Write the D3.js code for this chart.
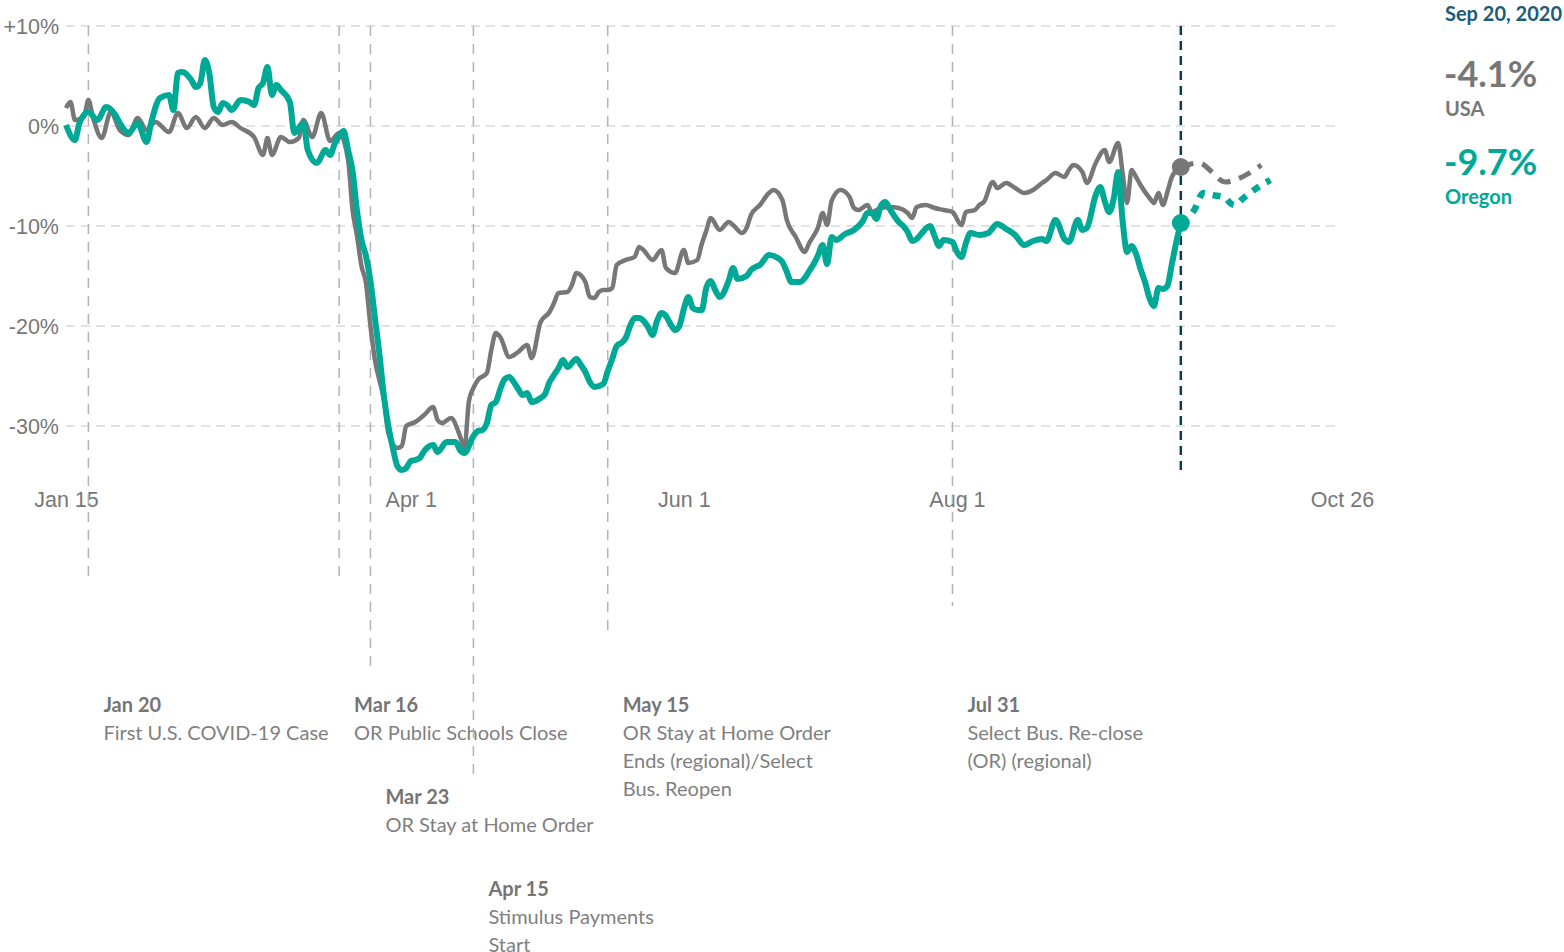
<!DOCTYPE html>
<html>
<head>
<meta charset="utf-8">
<title>Consumer spending vs. January</title>
<style>
  body { margin: 0; background: #fff; }
  .tick text { font-family: "Liberation Sans", Arial, sans-serif; font-size: 21.5px; fill: #777; }
  .note { font-family: Lato, "Noto Sans", sans-serif; font-size: 20px; }
</style>
</head>
<body>
<div id="chart"></div>
<script src="https://d3js.org/d3.v7.min.js"></script>
<script>
// USA, daily % change vs January
const usaDates = ["1/15","1/16","1/17","1/19","1/20","1/21","1/23","1/25","1/27","1/29","1/31","2/2","2/4","2/7","2/9","2/11","2/13","2/15","2/17","2/19","2/21","2/23","2/26","2/28","2/29","3/1","3/3","3/5","3/7","3/8","3/10","3/12","3/14","3/16","3/18","3/19","3/20","3/21","3/22","3/23","3/24","3/26","3/27","3/29","3/30","3/31","4/2","4/4","4/6","4/7","4/8","4/10","4/12","4/13","4/14","4/15","4/16","4/18","4/19","4/20","4/21","4/23","4/25","4/27","4/28","4/30","5/2","5/3","5/4","5/6","5/7","5/8","5/10","5/11","5/12","5/13","5/14","5/15","5/16","5/17","5/19","5/21","5/22","5/23","5/25","5/27","5/28","5/30","6/1","6/2","6/4","6/5","6/6","6/7","6/9","6/11","6/12","6/14","6/15","6/16","6/18","6/20","6/21","6/23","6/24","6/26","6/28","6/29","7/1","7/2","7/3","7/4","7/6","7/8","7/9","7/10","7/12","7/13","7/15","7/17","7/19","7/21","7/22","7/23","7/25","7/27","7/29","7/31","8/2","8/3","8/5","8/6","8/7","8/9","8/10","8/12","8/14","8/16","8/18","8/20","8/21","8/23","8/25","8/26","8/27","8/29","8/30","9/1","9/3","9/4","9/6","9/7","9/8","9/9","9/10","9/11","9/13","9/14","9/15","9/16","9/17","9/18","9/20"];
const usaValues = [1.8,2.4,0.6,0.9,2.6,0.9,-1.2,1.4,-0.4,-0.9,0.8,-0.4,0.4,-0.6,1.3,-0.2,0.9,-0.2,0.8,0.1,0.4,-0.2,-1.1,-2.9,-1.2,-2.9,-1.1,-1.6,-1.2,0.6,-1.1,1.3,-1.5,-0.7,-3.4,-8.4,-11,-14,-15.7,-20,-23.4,-27.4,-30.7,-32.2,-32,-30,-29.6,-28.9,-28.1,-29.4,-29.7,-29.2,-31,-32.2,-27.5,-26.2,-25.4,-24.7,-22.4,-20.7,-21.1,-23.1,-22.6,-21.9,-23.2,-19.6,-18.6,-17.7,-16.7,-16.6,-15.9,-14.7,-15.6,-17.1,-17.2,-16.6,-16.4,-16.4,-16.2,-13.9,-13.4,-13.1,-12.1,-12.4,-13.4,-12.4,-14.2,-14.7,-12.4,-13.7,-13.4,-11.8,-10.5,-9.2,-10.4,-9.6,-9.9,-10.7,-10.2,-8.9,-7.9,-6.7,-6.4,-7.4,-9.4,-11.1,-12.6,-11.7,-10.1,-8.7,-9.9,-7.5,-6.4,-7.1,-8.2,-8.4,-7.9,-8.6,-8.2,-8.1,-8.2,-8.7,-9.2,-8.1,-7.9,-8.2,-8.4,-8.6,-9.9,-8.6,-8.4,-7.9,-7.6,-5.6,-6.2,-5.7,-6.2,-6.7,-6.4,-5.7,-5.4,-4.7,-5.1,-4.4,-3.9,-4.6,-5.7,-3.7,-2.4,-3.6,-1.7,-4.7,-7.7,-4.4,-5.1,-5.9,-7.2,-7.7,-6.7,-7.9,-6.6,-5.1,-4.1];

// Oregon
const orDates = ["1/15","1/17","1/18","1/20","1/22","1/24","1/26","1/27","1/29","1/31","2/2","2/3","2/5","2/7","2/8","2/9","2/10","2/12","2/13","2/14","2/15","2/16","2/17","2/18","2/19","2/20","2/21","2/23","2/25","2/26","2/27","2/28","2/29","3/1","3/2","3/3","3/5","3/6","3/8","3/9","3/11","3/13","3/14","3/15","3/16","3/17","3/18","3/19","3/20","3/21","3/22","3/23","3/24","3/25","3/26","3/27","3/28","3/29","3/30","3/31","4/1","4/2","4/3","4/4","4/6","4/7","4/9","4/10","4/11","4/12","4/13","4/15","4/16","4/17","4/18","4/19","4/20","4/21","4/22","4/23","4/24","4/25","4/26","4/27","4/28","4/30","5/1","5/2","5/3","5/4","5/5","5/6","5/8","5/9","5/10","5/11","5/12","5/14","5/15","5/16","5/17","5/18","5/19","5/20","5/21","5/22","5/24","5/25","5/26","5/27","5/28","5/29","5/30","5/31","6/1","6/2","6/3","6/4","6/5","6/6","6/7","6/8","6/9","6/11","6/12","6/13","6/15","6/16","6/17","6/18","6/20","6/22","6/23","6/24","6/25","6/27","6/28","6/29","6/30","7/1","7/2","7/3","7/4","7/5","7/7","7/9","7/11","7/12","7/13","7/14","7/15","7/16","7/17","7/18","7/19","7/20","7/21","7/22","7/23","7/24","7/26","7/27","7/28","7/29","7/31","8/1","8/2","8/3","8/4","8/6","8/8","8/10","8/12","8/14","8/16","8/18","8/20","8/21","8/23","8/25","8/26","8/28","8/29","8/30","9/1","9/2","9/3","9/4","9/5","9/6","9/7","9/8","9/9","9/10","9/11","9/12","9/13","9/14","9/15","9/16","9/17","9/18","9/19","9/20"];
const orValues = [0.1,-1.4,0.3,1.4,0.6,1.9,1.1,0.3,-0.7,0.3,-1.6,0.3,2.8,3.1,1.6,5.3,5.4,4.6,3.9,4.3,6.6,5.3,1.9,1.4,2.3,2.1,1.6,2.6,2.4,2.1,3.8,4.3,5.9,3.1,4.1,3.6,2.4,-0.7,0.3,-2.4,-3.7,-2.4,-2.9,-1.8,-1.0,-0.5,-2.4,-4.5,-8.5,-11.4,-13,-15.5,-19.2,-22.8,-27,-30,-32.2,-34,-34.4,-34.2,-33.5,-33.4,-33.2,-32.5,-31.9,-32.6,-31.6,-31.6,-31.6,-32.4,-32.7,-31,-30.5,-30.4,-29.7,-27.9,-27.6,-26.3,-25.3,-25.1,-25.6,-26.3,-26.9,-26.7,-27.6,-27.2,-26.8,-25.6,-24.9,-24.2,-23.4,-24.1,-23.3,-23.9,-24.6,-25.6,-26.1,-25.8,-24.5,-23.3,-22,-21.7,-21.2,-20,-19.2,-19.2,-20.1,-20.9,-19.5,-18.7,-19,-19.8,-20.4,-20,-18.3,-17.1,-18.2,-18.4,-18.4,-16.2,-15.5,-16.4,-17.1,-15.5,-14.2,-15.3,-15,-14.4,-14.1,-13.9,-12.9,-13.2,-13.6,-14.6,-15.6,-15.6,-15.2,-14.5,-13.8,-12.9,-11.9,-13.8,-11.1,-11.4,-10.8,-10.4,-9.5,-8.7,-8.7,-9.3,-8,-7.6,-8.3,-9,-9.6,-10,-10.6,-11.5,-11.3,-10.8,-10,-11,-12,-11.4,-11.6,-12.6,-13.1,-11.7,-10.7,-10.9,-10.7,-9.8,-10.3,-10.9,-11.9,-11.5,-11.3,-11.5,-9.4,-11.3,-11.6,-9.4,-10.4,-10.2,-6.9,-6.1,-7.5,-8.6,-7.3,-4.6,-9.5,-12.6,-12,-12.8,-14.3,-15.6,-17.2,-18,-16.2,-16.3,-16,-13.8,-11.6,-9.7];

// projections after Sep 20
const usaFcDates = ["9/20","9/24","9/30","10/2","10/8"];
const usaFcValues = [-4.1,-3.7,-5.6,-5.4,-3.9];
const orFcDates = ["9/20","9/23","9/25","9/27","9/30","10/1","10/2","10/4","10/7","10/10"];
const orFcValues = [-9.7,-8.4,-6.7,-6.9,-7.2,-7.7,-7.9,-7.2,-6.2,-5.4];

const xTickDates = ["1/15","4/1","6/1","8/1","10/26"];
const xTickLabels = ["Jan 15","Apr 1","Jun 1","Aug 1","Oct 26"];
const yTicks = [10, 0, -10, -20, -30];

const eventDates = ["1/20","3/16","3/23","4/15","5/15","7/31"];
const eventTitles = ["Jan 20","Mar 16","Mar 23","Apr 15","May 15","Jul 31"];
const eventTexts = [
  ["First U.S. COVID-19 Case"],
  ["OR Public Schools Close"],
  ["OR Stay at Home Order"],
  ["Stimulus Payments", "Start"],
  ["OR Stay at Home Order", "Ends (regional)/Select", "Bus. Reopen"],
  ["Select Bus. Re-close", "(OR) (regional)"]
];
// layout for the event labels
const eventRow = [0, 0, 1, 2, 0, 0];
const eventLineEnd = [582, 582, 673, 780, 637, 606];

const lastDate = "9/20";
const lastLabel = "Sep 20, 2020";
const usaLast = -4.1, orLast = -9.7;

const W = 1564, H = 952;
const teal = "#00a896", grey = "#777777";

const parse = s => d3.timeParse("%m/%d/%Y")(s + "/2020");
const pct = v => (v < 0 ? "-" : "") + Math.abs(v).toFixed(1) + "%";

const svg = d3.select("#chart").append("svg")
  .attr("width", W).attr("height", H);

const x = d3.scaleTime()
  .domain([parse("1/15"), parse("10/26")])
  .range([66, 1342]);
const y = d3.scaleLinear().domain([-30, 10]).range([426, 26]);

// horizontal grid
svg.append("g").selectAll("line")
  .data(yTicks).enter().append("line")
  .attr("x1", 66).attr("x2", 1336)
  .attr("y1", d => y(d)).attr("y2", d => y(d))
  .attr("stroke", "#d9d9d9").attr("stroke-width", 1.5)
  .attr("stroke-dasharray", "9,6");

// y axis labels
const yAxis = d3.axisLeft(y).tickValues(yTicks).tickSize(0).tickPadding(6)
  .tickFormat(d => (d > 0 ? "+" : "") + d + "%");
svg.append("g").attr("transform", "translate(65,0)").call(yAxis)
  .call(g => g.select(".domain").remove())
  .selectAll("text").attr("dy", "0.36em");

// x axis labels
const xAxis = d3.axisBottom(x).tickValues(xTickDates.map(parse)).tickSize(0)
  .tickFormat((d, i) => xTickLabels[i]);
svg.append("g").attr("transform", "translate(0,489)").call(xAxis)
  .call(g => g.select(".domain").remove());

// event lines + labels
const ev = svg.append("g");
eventDates.forEach((ds, i) => {
  const ex = x(parse(ds));
  ev.append("line")
    .attr("x1", ex).attr("x2", ex).attr("y1", 26).attr("y2", eventLineEnd[i])
    .attr("stroke", "#b3b3b3").attr("stroke-width", 1.5)
    .attr("stroke-dasharray", "10,8");
  const ty = 712 + eventRow[i] * 92;
  const t = ev.append("text").attr("class", "note")
    .attr("x", ex + 15).attr("y", ty);
  t.append("tspan").text(eventTitles[i])
    .attr("font-weight", "bold").attr("fill", "#757575");
  eventTexts[i].forEach((line, j) => {
    t.append("tspan").attr("x", ex + 15).attr("y", ty + 28 * (j + 1))
      .attr("fill", "#808080").text(line);
  });
});

// current date marker
const lx = x(parse(lastDate));
svg.append("line")
  .attr("x1", lx).attr("x2", lx).attr("y1", 26).attr("y2", 475)
  .attr("stroke", "#0f3a4d").attr("stroke-width", 2.5)
  .attr("stroke-dasharray", "9,6");

const line = d3.line()
  .x(d => x(d[0])).y(d => y(d[1]))
  .curve(d3.curveMonotoneX);

const zip = (ds, vs) => ds.map((d, i) => [parse(d), vs[i]]);

// projections (drawn first)
svg.append("path").datum(zip(usaFcDates, usaFcValues))
  .attr("d", line).attr("fill", "none")
  .attr("stroke", grey).attr("stroke-width", 5)
  .attr("stroke-dasharray", "13,9");
svg.append("path").datum(zip(orFcDates, orFcValues))
  .attr("d", line).attr("fill", "none")
  .attr("stroke", teal).attr("stroke-width", 6.5)
  .attr("stroke-dasharray", "8,8");

svg.append("path").datum(zip(usaDates, usaValues))
  .attr("d", line).attr("fill", "none")
  .attr("stroke", grey).attr("stroke-width", 4.5)
  .attr("stroke-linejoin", "round");
svg.append("path").datum(zip(orDates, orValues))
  .attr("d", line).attr("fill", "none")
  .attr("stroke", teal).attr("stroke-width", 6)
  .attr("stroke-linejoin", "round");

svg.append("circle").attr("cx", lx).attr("cy", y(usaLast)).attr("r", 9).attr("fill", grey);
svg.append("circle").attr("cx", lx).attr("cy", y(orLast)).attr("r", 9).attr("fill", teal);

// right side summary
const side = svg.append("g").attr("class", "note").attr("font-weight", "bold");
side.append("text").attr("x", 1445).attr("y", 21).attr("fill", "#1b5a78")
  .attr("font-size", 20).text(lastLabel);
side.append("text").attr("x", 1444).attr("y", 87).attr("fill", grey)
  .attr("font-size", 36).text(pct(usaLast));
side.append("text").attr("x", 1445).attr("y", 116).attr("fill", grey)
  .attr("font-size", 20).text("USA");
side.append("text").attr("x", 1444).attr("y", 175).attr("fill", teal)
  .attr("font-size", 36).text(pct(orLast));
side.append("text").attr("x", 1445).attr("y", 204).attr("fill", teal)
  .attr("font-size", 20).text("Oregon");
</script>
</body>
</html>
